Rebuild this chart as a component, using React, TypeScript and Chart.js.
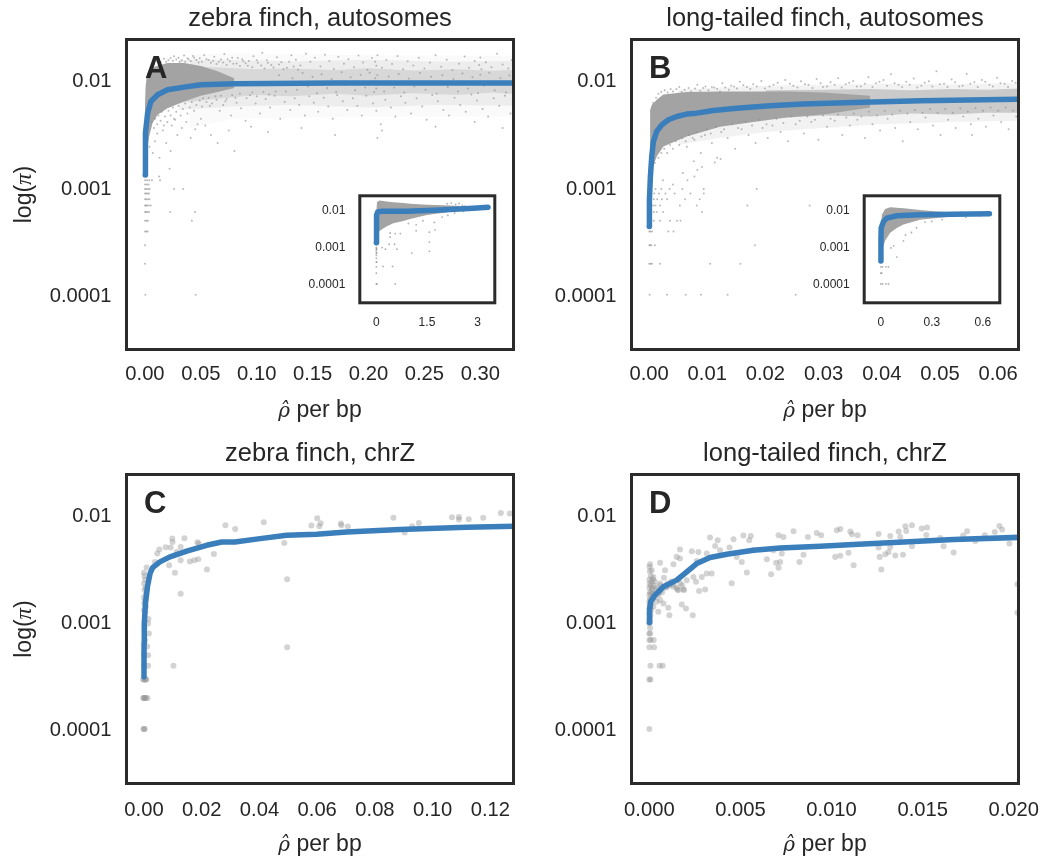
import React, { useEffect, useRef } from "react";
import { Chart, registerables } from "chart.js";
Chart.register(...registerables);

type P = [number, number];

const yTickValues = [0.0001, 0.001, 0.01];
const yTickLabels = ["0.0001", "0.001", "0.01"];

const xTicksA = [0, 0.05, 0.1, 0.15, 0.2, 0.25, 0.3];
const xLabelsA = ["0.00", "0.05", "0.10", "0.15", "0.20", "0.25", "0.30"];
const xTicksB = [0, 0.01, 0.02, 0.03, 0.04, 0.05, 0.06];
const xLabelsB = ["0.00", "0.01", "0.02", "0.03", "0.04", "0.05", "0.06"];
const xTicksC = [0, 0.02, 0.04, 0.06, 0.08, 0.1, 0.12];
const xLabelsC = ["0.00", "0.02", "0.04", "0.06", "0.08", "0.10", "0.12"];
const xTicksD = [0, 0.005, 0.01, 0.015, 0.02];
const xLabelsD = ["0.000", "0.005", "0.010", "0.015", "0.020"];
const xTicksInsetA = [0, 1.5, 3];
const xLabelsInsetA = ["0", "1.5", "3"];
const xTicksInsetB = [0, 0.3, 0.6];
const xLabelsInsetB = ["0", "0.3", "0.6"];

// fitted curves
const lineAx = [0.0002, 0.0003, 0.0006, 0.0024, 0.0053, 0.0113, 0.0202, 0.035, 0.05, 0.08, 0.17, 0.335];
const lineAy = [0.00131, 0.00209, 0.00322, 0.00495, 0.00636, 0.00735, 0.00818, 0.00866, 0.00911, 0.00931, 0.00944, 0.00944];
const lineBx = [0.00003, 0.00006, 0.00023, 0.00046, 0.00074, 0.00132, 0.00218, 0.00332, 0.00475, 0.00647, 0.00819, 0.01105, 0.01506, 0.02078, 0.02651, 0.0351, 0.04655, 0.06315, 0.064];
const lineBy = [0.000432, 0.000767, 0.00127, 0.00195, 0.00269, 0.00334, 0.00385, 0.00429, 0.00461, 0.00485, 0.00495, 0.00524, 0.00551, 0.0058, 0.00601, 0.00623, 0.00645, 0.00669, 0.0067];
const lineCx = [0, 0.00002, 0.0001, 0.0005, 0.0012, 0.0021, 0.003, 0.0055, 0.009, 0.0148, 0.0217, 0.0269, 0.0315, 0.0402, 0.0494, 0.0598, 0.0702, 0.0886, 0.1117, 0.1285];
const lineCy = [0.000308, 0.000633, 0.00097, 0.00149, 0.00214, 0.00285, 0.00324, 0.00366, 0.00408, 0.00461, 0.00524, 0.00563, 0.00563, 0.00605, 0.0065, 0.00664, 0.00699, 0.00735, 0.00772, 0.00789];
const lineDx = [0, 0.00001, 0.00007, 0.00031, 0.00077, 0.0015, 0.00205, 0.0026, 0.00333, 0.00425, 0.00571, 0.00718, 0.00938, 0.01121, 0.01396, 0.0167, 0.0205];
const lineDy = [0.00099, 0.0013, 0.00155, 0.00179, 0.00214, 0.00247, 0.00295, 0.00353, 0.00402, 0.00432, 0.00471, 0.00495, 0.00513, 0.00532, 0.00563, 0.00592, 0.00623];
const lineInsetAx = [0.0, 0.002, 0.01, 0.04, 0.167, 0.9, 1.9, 2.87, 3.31];
const lineInsetAy = [0.0013, 0.00395, 0.00724, 0.00886, 0.00922, 0.00922, 0.01, 0.0111, 0.0118];
const lineInsetBx = [0.0, 0.0005, 0.002, 0.016, 0.035, 0.094, 0.231, 0.427, 0.639];
const lineInsetBy = [0.000414, 0.00146, 0.00327, 0.00492, 0.00602, 0.00694, 0.00737, 0.00768, 0.00784];

// dense cloud outlines
const coreAx = [0, 0.0006, 0.0018, 0.0038, 0.0068, 0.0113, 0.0202, 0.035, 0.05, 0.065, 0.08];
const coreAhi = [0.00572, 0.00879, 0.0113, 0.01258, 0.01323, 0.01371, 0.01452, 0.01452, 0.0136, 0.0122, 0.0105];
const coreAlo = [0.00127, 0.00157, 0.00225, 0.003, 0.004, 0.00478, 0.00551, 0.00636, 0.0072, 0.0078, 0.0085];
const midAx = [0.03, 0.07, 0.1, 0.13, 0.17, 0.2, 0.24, 0.28, 0.31, 0.335];
const midAhi = [0.0138, 0.0131, 0.0127, 0.0129, 0.0125, 0.013, 0.0124, 0.0127, 0.0123, 0.0126];
const midAlo = [0.0062, 0.0068, 0.0073, 0.0071, 0.0075, 0.0072, 0.0076, 0.0073, 0.0077, 0.0074];
const wideAx = [0.03, 0.08, 0.13, 0.2, 0.26, 0.335];
const wideAhi = [0.0156, 0.0155, 0.0151, 0.0156, 0.015, 0.0152];
const wideAlo = [0.0053, 0.0057, 0.0059, 0.0056, 0.0059, 0.0058];
const outerAx = [0.04, 0.08, 0.2, 0.335];
const outerAhi = [0.0175, 0.0178, 0.0172, 0.017];
const outerAlo = [0.0036, 0.0044, 0.0046, 0.0046];

const coreBx = [0.00017, 0.00046, 0.00132, 0.00246, 0.00647, 0.01219, 0.01792, 0.02365, 0.03, 0.038];
const coreBhi = [0.0053, 0.0059, 0.0066, 0.0074, 0.0078, 0.0079, 0.0079, 0.0079, 0.0077, 0.0072];
const coreBlo = [0.00077, 0.00146, 0.00195, 0.00242, 0.003, 0.0037, 0.0041, 0.0045, 0.0048, 0.0056];
const midBx = [0.02, 0.03, 0.038, 0.045, 0.052, 0.058, 0.064];
const midBhi = [0.0081, 0.0082, 0.0083, 0.0081, 0.0083, 0.0082, 0.0084];
const midBlo = [0.0044, 0.0047, 0.0046, 0.0049, 0.0048, 0.005, 0.005];
const outerBx = [0.005, 0.012, 0.02, 0.03, 0.04, 0.052, 0.064];
const outerBhi = [0.0082, 0.0086, 0.0089, 0.0091, 0.0093, 0.0092, 0.0094];
const outerBlo = [0.0025, 0.0029, 0.0033, 0.0036, 0.0039, 0.0041, 0.0042];

const coreInsetAx = [0, 0.02, 0.1, 0.3, 0.5, 0.8, 1.0, 1.5, 2.0, 2.5];
const coreInsetAhi = [0.0105, 0.0165, 0.018, 0.017, 0.0162, 0.0153, 0.0147, 0.0138, 0.0133, 0.0127];
const coreInsetAlo = [0.00144, 0.0021, 0.00275, 0.00357, 0.00437, 0.00503, 0.00568, 0.00724, 0.00834, 0.0098];
const coreInsetBx = [0, 0.006, 0.025, 0.055, 0.094, 0.133, 0.231, 0.329, 0.427];
const coreInsetBhi = [0.00327, 0.00737, 0.0106, 0.0118, 0.0115, 0.0111, 0.01, 0.00904, 0.0085];
const coreInsetBlo = [0.000431, 0.00079, 0.00146, 0.00242, 0.00327, 0.00401, 0.00544, 0.00602, 0.00667];

const scatterA: P[] = [
  [0.021,0.0155],[0.026,0.0168],[0.031,0.0149],[0.035,0.0171],[0.039,0.0158],[0.044,0.0163],[0.048,0.0147],[0.053,0.0172],[0.057,0.0155],[0.062,0.0166],[0.066,0.0149],[0.071,0.0176],[0.074,0.0158],[0.079,0.0143],[0.083,0.0162],[0.088,0.0151],[0.092,0.0137],[0.097,0.0168],[0.101,0.0146],[0.105,0.0181],[0.109,0.0154],[0.113,0.0139],[0.118,0.0165],[0.122,0.0148],[0.127,0.0131],[0.131,0.0172],[0.135,0.0156],[0.139,0.0138],[0.144,0.0177],[0.148,0.0149],[0.152,0.0163],[0.157,0.0135],[0.161,0.0174],[0.165,0.0152],[0.169,0.0128],[0.173,0.0166],[0.178,0.0143],[0.182,0.0158],[0.187,0.0133],[0.191,0.0171],[0.195,0.0147],[0.199,0.0126],[0.203,0.0162],[0.206,0.0149],[0.207,0.0137],[0.208,0.0172],[0.212,0.0131],[0.216,0.0155],[0.221,0.0142],[0.226,0.0169],[0.231,0.0127],[0.235,0.0151],[0.24,0.0138],[0.245,0.0163],[0.25,0.0129],[0.255,0.0147],[0.26,0.0172],[0.265,0.0134],[0.27,0.0156],[0.275,0.0125],[0.281,0.0143],[0.286,0.0167],[0.29,0.0131],[0.295,0.0152],[0.299,0.0139],[0.3,0.0164],[0.301,0.0127],[0.305,0.0148],[0.31,0.0133],[0.315,0.0177],[0.32,0.0141],[0.325,0.0129],[0.328,0.0155],
  [0.052,0.0068],[0.058,0.0058],[0.063,0.0071],[0.067,0.0052],[0.072,0.0064],[0.077,0.0047],[0.081,0.0069],[0.086,0.0055],[0.09,0.0042],[0.094,0.0073],[0.099,0.0061],[0.103,0.0049],[0.108,0.0067],[0.112,0.0056],[0.116,0.0072],[0.121,0.0044],[0.125,0.0063],[0.13,0.0053],[0.134,0.0068],[0.138,0.0059],[0.143,0.0047],[0.147,0.0071],[0.151,0.0062],[0.155,0.0051],[0.16,0.0069],[0.164,0.0057],[0.168,0.0044],[0.172,0.0073],[0.177,0.0064],[0.181,0.0053],[0.186,0.0068],[0.19,0.0058],[0.194,0.0047],[0.198,0.0072],[0.204,0.0061],[0.207,0.0052],[0.211,0.0039],[0.215,0.0066],[0.22,0.0056],[0.224,0.0046],[0.229,0.0071],[0.233,0.0062],[0.238,0.0049],[0.243,0.0068],[0.248,0.0057],[0.252,0.0043],[0.257,0.0073],[0.262,0.0064],[0.267,0.0053],[0.272,0.0047],[0.277,0.0069],[0.282,0.0059],[0.287,0.0051],[0.292,0.0074],[0.297,0.0065],[0.302,0.0054],[0.307,0.0046],[0.312,0.0068],[0.317,0.0058],[0.322,0.0072],[0.327,0.0049],
  [0.004,0.0024],[0.007,0.0021],[0.009,0.0027],[0.011,0.0032],[0.013,0.0019],[0.016,0.0034],[0.019,0.0026],[0.022,0.0015],[0.023,0.0022],[0.024,0.0038],[0.027,0.0043],[0.029,0.0031],[0.033,0.0036],[0.037,0.0041],[0.041,0.0029],[0.045,0.0035],[0.047,0.0039],[0.05,0.0044],[0.054,0.0038],[0.059,0.0031],[0.065,0.0026],[0.075,0.0034],[0.08,0.0022],[0.095,0.0037],[0.11,0.0033],[0.14,0.0036],[0.17,0.0031],[0.208,0.0029],[0.212,0.0034],[0.32,0.0036],[0.295,0.0041],[0.26,0.0037],
  [0.0004,0.0001],[0.0454,0.0001],[0.0001,0.000195],[0.0001,0.00029],[0.0001,0.00039],[0.0012,0.00039],[0.0024,0.00039],[0.0001,0.00049],[0.0014,0.00049],[0.0026,0.00049],[0.042,0.00049],[0.0001,0.00059],[0.0011,0.00059],[0.0022,0.00059],[0.0037,0.00059],[0.0226,0.00059],[0.0449,0.00059],[0.0001,0.00068],[0.0009,0.00068],[0.0018,0.00068],[0.0034,0.00068],[0.0052,0.00068],[0.0001,0.00078],[0.0013,0.00078],[0.0027,0.00078],[0.0041,0.00078],[0.0001,0.00088],[0.001,0.00088],[0.0023,0.00088],[0.0036,0.00088],[0.0001,0.00097],[0.0012,0.00097],[0.0028,0.00097],[0.0042,0.00097],[0.0261,0.00097],[0.0342,0.00097],[0.0001,0.00107],[0.0017,0.00107],[0.0032,0.00107],[0.0001,0.00117],[0.0019,0.00117],[0.0039,0.00117],[0.0063,0.00117],[0.0127,0.00127],[0.0135,0.00117],
  [0.008,0.0142],[0.011,0.0151],[0.014,0.0148],[0.017,0.0159],[0.019,0.0149],[0.023,0.0162],[0.025,0.0153],[0.028,0.0157],[0.03,0.0163],[0.033,0.0154],[0.036,0.0149],[0.038,0.0161],[0.041,0.0152],[0.043,0.0169],[0.046,0.0155],[0.049,0.0161],[0.051,0.0149],[0.055,0.0158],[0.059,0.0146],[0.061,0.0153],[0.064,0.0142],[0.068,0.0157],[0.07,0.0147],[0.073,0.0139],[0.076,0.0151],[0.078,0.0163],[0.082,0.0144],[0.085,0.0136],[0.087,0.0158],[0.09,0.0145],[0.093,0.0152],[0.096,0.0133],[0.1,0.0154],[0.104,0.0138],[0.107,0.0129],[0.11,0.0146],[0.115,0.0132],[0.12,0.0141],[0.124,0.0127],[0.129,0.0149],[0.133,0.0135],[0.137,0.0126],
  [0.006,0.0041],[0.008,0.0036],[0.009,0.0044],[0.011,0.0039],[0.012,0.0047],[0.014,0.0042],[0.015,0.0051],[0.017,0.0038],[0.018,0.0046],[0.02,0.0041],[0.021,0.0052],[0.023,0.0047],[0.025,0.0056],[0.026,0.0044],[0.028,0.0051],[0.03,0.0058],[0.032,0.0047],[0.034,0.0054],[0.036,0.0061],[0.038,0.0049],[0.04,0.0056],[0.042,0.0063],[0.044,0.0052],[0.046,0.0059],[0.049,0.0065],[0.051,0.0057],[0.055,0.0063],[0.057,0.0069],[0.06,0.0061],[0.064,0.0066],[0.068,0.0072],[0.07,0.0059],[0.073,0.0067],[0.078,0.0073],[0.082,0.0062],[0.085,0.0075],[0.091,0.0068],[0.096,0.0077],[0.1,0.0071],[0.106,0.0078],[0.111,0.0074],[0.117,0.0079],
  [0.12,0.0112],[0.126,0.0079],[0.132,0.0105],[0.136,0.0082],[0.141,0.0117],[0.146,0.0088],[0.15,0.0108],[0.154,0.0076],[0.158,0.0114],[0.163,0.0085],[0.167,0.0103],[0.171,0.0078],[0.176,0.0119],[0.18,0.0091],[0.184,0.0107],[0.188,0.0081],[0.193,0.0113],[0.197,0.0086],[0.201,0.0118],[0.205,0.0078],[0.206,0.0105],[0.207,0.0084],[0.208,0.0112],[0.209,0.0093],[0.214,0.0079],[0.218,0.0109],[0.223,0.0086],[0.227,0.0115],[0.232,0.0077],[0.236,0.0104],[0.241,0.0088],[0.246,0.0117],[0.251,0.0082],[0.256,0.0108],[0.261,0.0075],[0.266,0.0112],[0.271,0.0087],[0.276,0.0103],[0.28,0.0079],[0.284,0.0116],[0.289,0.0084],[0.293,0.0107],[0.298,0.0076],[0.3,0.0113],[0.303,0.0089],[0.308,0.0118],[0.313,0.0081],[0.318,0.0105],[0.323,0.0077],[0.326,0.0111],
];

const scatterB: P[] = [
  [0.0037,0.0083],[0.0052,0.0087],[0.0068,0.0085],[0.0083,0.0091],[0.0097,0.0088],[0.0112,0.0086],[0.0126,0.0094],[0.0141,0.0089],[0.0156,0.0097],[0.0168,0.0087],[0.0179,0.0092],[0.0193,0.0099],[0.0207,0.0088],[0.0221,0.0095],[0.0234,0.0101],[0.0248,0.0089],[0.0261,0.0098],[0.0274,0.0091],[0.0288,0.0103],[0.0299,0.0087],[0.0312,0.0096],[0.0325,0.0105],[0.0338,0.0092],[0.0351,0.0099],[0.0364,0.0088],[0.0377,0.0107],[0.039,0.0094],[0.0403,0.0101],[0.0416,0.0114],[0.0429,0.0091],[0.0442,0.0097],[0.0455,0.0104],[0.0468,0.0089],[0.0481,0.0098],[0.0494,0.0122],[0.0507,0.0093],[0.052,0.0102],[0.0533,0.0088],[0.0546,0.0115],[0.0559,0.0096],[0.0572,0.0101],[0.0585,0.0091],[0.0598,0.0106],[0.0611,0.0093],[0.0624,0.0099],
  [0.0065,0.0024],[0.0078,0.0028],[0.0089,0.0021],[0.0096,0.0031],[0.0108,0.0026],[0.0117,0.0019],[0.0124,0.0033],[0.0135,0.0029],[0.0148,0.0023],[0.0159,0.0035],[0.0171,0.0031],[0.0183,0.0026],[0.0195,0.0036],[0.0204,0.0029],[0.0212,0.0038],[0.0226,0.0033],[0.0239,0.0027],[0.0252,0.0039],[0.0266,0.0032],[0.0279,0.0041],[0.0291,0.0028],[0.0306,0.0037],[0.0319,0.0042],[0.0332,0.0031],[0.0345,0.0038],[0.0358,0.0043],[0.0371,0.0029],[0.0384,0.0039],[0.0397,0.0034],[0.041,0.0044],[0.0423,0.0036],[0.0436,0.0027],[0.0449,0.0041],[0.0462,0.0035],[0.0475,0.0045],[0.0488,0.0038],[0.0501,0.0031],[0.0514,0.0043],[0.0527,0.0036],[0.054,0.0046],[0.0553,0.0039],[0.0555,0.0031],[0.0566,0.0044],[0.0579,0.0037],[0.0592,0.0047],[0.0605,0.0041],[0.0618,0.0035],[0.0631,0.0046],
  [0.0001,0.0001],[0.0031,0.0001],[0.0063,0.0001],[0.0089,0.0001],[0.0135,0.0001],[0.0252,0.0001],
  [0.00005,0.000195],[0.0003,0.000195],[0.0005,0.000195],[0.0019,0.000195],[0.0105,0.000195],[0.0157,0.000195],
  [0.00005,0.00029],[0.0002,0.00029],[0.0004,0.00029],[0.001,0.00029],[0.0182,0.00029],
  [0.00005,0.00039],[0.0002,0.00039],[0.0005,0.00039],[0.0033,0.00039],[0.0042,0.00039],
  [0.0008,0.00049],[0.0019,0.00049],[0.0036,0.00049],[0.0048,0.00049],[0.0054,0.00049],
  [0.0008,0.00059],[0.0013,0.00059],[0.0024,0.00059],[0.0091,0.00059],
  [0.0007,0.00068],[0.0011,0.00068],[0.0019,0.00068],[0.0053,0.00068],[0.0082,0.00068],[0.0169,0.00068],[0.0276,0.00068],
  [0.0008,0.00078],[0.0014,0.00078],[0.0022,0.00078],[0.0031,0.00078],[0.0062,0.00078],[0.0087,0.00078],
  [0.0009,0.00088],[0.0017,0.00088],[0.0028,0.00088],[0.0044,0.00088],[0.0071,0.00088],[0.0094,0.00088],
  [0.0011,0.00097],[0.0021,0.00097],[0.0035,0.00097],[0.0057,0.00097],[0.0094,0.00097],[0.0185,0.00097],
  [0.0024,0.00117],[0.0041,0.00107],[0.0066,0.00117],[0.0078,0.00127],[0.0058,0.00137],[0.0083,0.00146],[0.0091,0.00156],[0.0077,0.00176],[0.0113,0.00171],[0.0123,0.00185],
  [0.0007,0.0062],[0.0012,0.0069],[0.0016,0.0075],[0.0021,0.0078],[0.0027,0.0081],[0.0032,0.0077],[0.0041,0.0079],[0.0047,0.0083],[0.0056,0.0078],[0.0061,0.0082],[0.0072,0.0079],[0.0079,0.0084],[0.0088,0.008],[0.0093,0.0085],[0.0102,0.0081],[0.0108,0.0087],[0.0117,0.0083],[0.0122,0.0079],[0.0131,0.0086],[0.0137,0.0082],[0.0146,0.0088],[0.0151,0.0084],[0.0162,0.009],[0.0174,0.0083],[0.0185,0.0088],[0.0199,0.0084],[0.0214,0.0091],[0.0228,0.0085],[0.0242,0.0093],[0.0255,0.0086],[0.0268,0.0092],[0.0281,0.0085],[0.0295,0.0094],[0.0306,0.0088],[0.0319,0.0091],[0.0331,0.0086],[0.0344,0.0095],[0.0357,0.0088],[0.0371,0.0093],[0.0384,0.0087],[0.0396,0.0097],[0.0409,0.0089],[0.0422,0.0094],[0.0435,0.0087],[0.0448,0.0091],[0.0461,0.0086],[0.0474,0.0095],[0.0487,0.0088],[0.05,0.0092],[0.0513,0.0087],[0.0526,0.0096],[0.0539,0.0089],[0.0552,0.0093],[0.0565,0.0087],[0.0578,0.0097],[0.0591,0.0088],[0.0604,0.0094],[0.0617,0.0087],[0.063,0.0095],
  [0.001,0.0017],[0.0016,0.0019],[0.0021,0.0021],[0.0026,0.0023],[0.0031,0.0021],[0.0036,0.0025],[0.0041,0.0023],[0.0046,0.0027],[0.0052,0.0025],[0.0057,0.0029],[0.0063,0.0027],[0.0069,0.0031],[0.0075,0.0029],[0.0082,0.0033],[0.009,0.003],[0.0099,0.0035],[0.0106,0.0032],[0.0115,0.0037],[0.0129,0.0035],[0.0143,0.0039],[0.0153,0.0036],[0.0166,0.0041],[0.0177,0.0038],[0.0189,0.0043],[0.0202,0.0039],[0.0219,0.0044],[0.0231,0.004],[0.0245,0.0046],[0.0259,0.0042],[0.0272,0.0046],[0.0285,0.0043],[0.0299,0.0047],[0.0312,0.0044],[0.0325,0.0048],[0.0339,0.0045],[0.0352,0.0049],[0.0365,0.0046],[0.0378,0.0051],[0.0392,0.0047],[0.0405,0.0052],[0.0418,0.0048],[0.0431,0.0052],[0.0444,0.0049],[0.0457,0.0053],[0.047,0.005],[0.0483,0.0054],[0.0496,0.005],[0.0509,0.0054],[0.0522,0.005],[0.0535,0.0055],[0.0548,0.0051],[0.0561,0.0055],[0.0574,0.0052],[0.0587,0.0056],[0.06,0.0052],[0.0613,0.0056],[0.0626,0.0052],
];

const scatterC: P[] = [
  [0.1236,0.0105],[0.1267,0.0104],[0.1067,0.00958],[0.1091,0.00965],[0.1091,0.00911],[0.1125,0.00918],[0.1175,0.00951],[0.0864,0.00951],[0.06,0.00937],[0.0612,0.00842],[0.058,0.00801],[0.0607,0.00789],[0.0682,0.00836],[0.0684,0.00806],[0.0706,0.00784],[0.0952,0.00848],[0.0929,0.00789],[0.0903,0.00689],[0.0282,0.00806],[0.0316,0.00745],[0.0415,0.0086],[0.0486,0.00551],[0.0496,0.00252],[0.0496,0.00058],[0.0102,0.00039],[0.0127,0.00184],[0.0218,0.00311],[0.0242,0.00435],[0.0107,0.00289],[0.014,0.0061],[0.0098,0.00606],[0.0099,0.00563],[0.0185,0.00559],[0.019,0.00544],[0.0127,0.00506],[0.0053,0.00478],[0.0075,0.00502],[0.0092,0.00499],[0.0046,0.00438],[0.0113,0.00454],[0.0188,0.00388],[0.0174,0.0038],[0.0159,0.00369],[0.0127,0.0038],[0.0087,0.00341],[0.0038,0.00366],[0.0009,0.00324],[0.0,0.00289],
  [0.0002,0.0027],[0.0004,0.0025],[0.0,0.0023],[0.0005,0.0021],[0.0002,0.002],[0.0006,0.0018],[0.0,0.0017],[0.0004,0.0016],[0.0001,0.0015],[0.0007,0.0014],[0.0,0.0013],[0.0005,0.00125],[0.0015,0.00107],[0.0014,0.00097],[0.0002,0.00088],[0.0017,0.00078],[0.0004,0.00068],[0.0011,0.00059],[0.0,0.00049],[0.0014,0.00049],[0.0,0.00039],[0.0014,0.00039],
  [-0.0003,0.00029],[0.0,0.00029],[0.0003,0.00029],[0.0006,0.00029],[0.0008,0.00029],
  [-0.0003,0.000195],[0.0,0.000195],[0.0002,0.000195],[0.0004,0.000195],[0.0007,0.000195],[0.0012,0.000195],
  [-0.0002,0.0001],[0.0,0.0001],[0.0003,0.0001],
];

const scatterD: P[] = [
  [0.01921,0.00795],[0.01936,0.00735],[0.01896,0.00699],[0.01744,0.00709],[0.01722,0.00646],[0.01789,0.00575],[0.01841,0.0065],[0.01976,0.00543],[0.0167,0.00448],[0.01615,0.00513],[0.01597,0.00614],[0.0152,0.00655],[0.01524,0.00767],[0.01495,0.00751],[0.01441,0.00806],[0.01405,0.00789],[0.0141,0.00714],[0.01368,0.00704],[0.01377,0.00627],[0.01322,0.00641],[0.01441,0.00513],[0.01392,0.00426],[0.0135,0.0042],[0.01313,0.00454],[0.01295,0.00432],[0.01264,0.00408],[0.01273,0.0031],[0.01322,0.00506],[0.01258,0.00499],[0.01258,0.00669],[0.01143,0.0065],[0.01112,0.00664],[0.01103,0.00704],[0.01048,0.00745],[0.01029,0.00724],[0.01093,0.00445],[0.01048,0.00417],[0.0102,0.00408],[0.01121,0.00341],[0.00943,0.0065],[0.00919,0.00684],[0.0087,0.00627],[0.00791,0.00709],[0.00846,0.00426],[0.00824,0.00366],[0.00736,0.00627],[0.00709,0.0065],[0.00681,0.00471],[0.00727,0.00438],[0.00718,0.00366],[0.00696,0.00359],[0.00709,0.00322],[0.00668,0.00281],[0.00645,0.00388],[0.00571,0.00471],[0.00557,0.00641],[0.00516,0.00646],[0.00548,0.00584],[0.00462,0.00597],[0.00375,0.00584],[0.00333,0.00618],[0.00535,0.00291],[0.00507,0.00366],[0.00452,0.00231],[0.0048,0.00408],[0.0044,0.00499],[0.00361,0.00517],[0.00388,0.00471],[0.00315,0.00438],[0.00269,0.00454],[0.00233,0.00461],[0.00168,0.00478],[0.00342,0.00285],[0.00315,0.00285],[0.00288,0.00265],[0.00306,0.00202],[0.00273,0.00195],[0.00256,0.00238],[0.00238,0.00116],[0.00201,0.00134],[0.00178,0.00146],[0.0011,0.00116],[0.00104,0.00136],[0.00159,0.00199],[0.00187,0.00202],[0.00205,0.00247],[0.00242,0.00265],[0.0026,0.00374],[0.00168,0.00393],[0.0015,0.00408],[0.00132,0.00348],[0.00086,0.00306],[0.00059,0.00359],[0.00004,0.00348],[0.00013,0.00306],[0.00022,0.00265],[0.00059,0.0023],[0.00095,0.00214],[0.00132,0.00214],[0.00154,0.00202],[0.00049,0.00185],[0.00059,0.00161],[0.00077,0.00149],[0.00049,0.00125],[0.00022,0.00139],
  [0.0202,0.00226],[0.0202,0.00122],[0.0006,0.0022],[0.001,0.0023],[0.0012,0.0024],[0.0016,0.0025],[0.0018,0.0022],[0.0007,0.0019],[0.0004,0.0021],[0.0008,0.0026],[0.0003,0.0024],[0.0009,0.0021],[0.0011,0.0022],[0.0013,0.00225],[0.0015,0.0021],[0.0017,0.0023],[0.0019,0.002],[0.0005,0.0018],[0.0006,0.00195],[0.0003,0.0017],[0.0004,0.00155],[0.0002,0.00185],[0.00035,0.002],[0.00025,0.0022],[0.00015,0.0021],[0.0002,0.0025],
  [0.00001,0.0033],[0.00003,0.003],[0.00008,0.0027],[0.0,0.0025],[0.00012,0.0024],[0.00002,0.0023],[0.00007,0.0022],[0.0,0.0021],[0.00014,0.002],[0.00004,0.0019],[0.00009,0.00185],[0.0,0.0018],[0.00013,0.0017],[0.00003,0.00165],[0.00007,0.0016],[0.0,0.00155],[0.00011,0.0015],[0.00002,0.00145],[0.00006,0.0014],[0.0,0.00135],[0.00009,0.0013],[0.00003,0.00125],[0.0,0.0012],[0.00006,0.00115],[0.00002,0.0011],[0.0,0.00105],[0.00005,0.001],[0.0,0.00097],[0.00004,0.00088],[0.0,0.00078],[0.00004,0.00078],[0.0,0.00068],[0.00024,0.00068],[0.00007,0.00068],
  [0.0,0.00058],[0.00026,0.00058],[0.00006,0.00039],[0.00056,0.00039],[0.00073,0.00039],[0.0,0.00029],[0.00006,0.00029],[0.0,0.0001],
];

const scatterInsetA: P[] = [
  [0.197,0.000297],[0.48,0.000297],[0,0.0001],[0.02,0.0001],[0.56,0.0001],[1.05,0.00068],[1.57,0.00076],[1.57,0.00135],[1.18,0.00275],[1.18,0.00395],[1.57,0.0025],[1.74,0.0029],[0.71,0.00229],[0.56,0.00229],[0.41,0.00238],[0.41,0.00183],[0.17,0.00096],[0.27,0.00087],[0.38,0.00118],[0.54,0.00118],[0.61,0.00087],
  [0,0.000195],[0,0.00029],[0,0.00039],[0,0.00049],[0,0.00059],[0,0.00068],[0,0.00078],[0,0.00088],[0,0.00097],[0.01,0.00039],[0.01,0.00068],[0.01,0.00088],
  [2.1,0.0148],[2.22,0.0153],[2.35,0.0142],[2.45,0.0149],[2.55,0.0132],[2.62,0.0127],[1.72,0.0046],[1.95,0.0064],[2.12,0.0071],[2.32,0.0082],[2.58,0.0091],[2.72,0.0098],[1.38,0.0051],[0.95,0.0043],
];

const scatterInsetB: P[] = [
  [0.759,0.00768],[0,0.0001],[0.01,0.0001],[0.03,0.0001],[0.045,0.0001],[0,0.000195],[0.005,0.000195],[0,0.00029],[0.01,0.00029],[0.03,0.00029],[0.045,0.00029],[0.094,0.00053],[0.075,0.00107],[0.133,0.00146],[0.18,0.00245],[0.21,0.0033],[0.145,0.0021],[0.06,0.00094],
  [0.47,0.0086],[0.5,0.0063],[0.54,0.0081],[0.58,0.0069],[0.36,0.0055],[0.3,0.0049],[0.26,0.0047],
];

const axisColor = "#262626";
const frameColor = "#2b2b2b";
const curveColor = "#3a7fbc";
const solidGray = "#a3a3a3";
const uiFont = "'Liberation Sans', Arial, sans-serif";

const toPts = (xs: number[], ys: number[]) => xs.map((x, i) => ({ x, y: ys[i] }));
const toObj = (ps: P[]) => ps.map(([x, y]) => ({ x, y }));

function bandSets(xs: number[], hi: number[], lo: number[], color: string) {
  return [
    { type: "line", data: toPts(xs, hi), fill: "+1", backgroundColor: color, borderWidth: 0, pointRadius: 0, tension: 0 },
    { type: "line", data: toPts(xs, lo), fill: false, borderWidth: 0, pointRadius: 0, tension: 0 },
  ];
}

const LOGMIN = 3.08e-5;
const LOGMAX = 0.0241;

type Spec = {
  left: number; top: number; w: number; h: number;
  plotL: number; plotR: number; plotT: number; plotB: number;
  xMin: number; xMax: number; xTicks: number[]; xLabels: string[];
  curve: [number[], number[]];
  bands: any[]; scatter: P[]; radius: number; dotColor: string;
  title?: string; titlePad?: { top: number; bottom: number };
  letter?: string; letterX?: number; letterY?: number;
  yTitle?: boolean; xTitleBaseline?: number; xPad: number;
  inset?: boolean;
};

const specs: Spec[] = [
  { left: 0, top: 0, w: 520, h: 430, plotL: 126.5, plotR: 513.5, plotT: 39.5, plotB: 349.5, xMin: -0.0165, xMax: 0.3297, xTicks: xTicksA, xLabels: xLabelsA,
    curve: [lineAx, lineAy],
    bands: [...bandSets(coreAx, coreAhi, coreAlo, solidGray), ...bandSets(midAx, midAhi, midAlo, "rgba(163,163,163,0.28)"), ...bandSets(wideAx, wideAhi, wideAlo, "rgba(163,163,163,0.14)"), ...bandSets(outerAx, outerAhi, outerAlo, "rgba(163,163,163,0.05)")],
    scatter: scatterA, radius: 1, dotColor: "rgba(140,140,140,0.6)",
    title: "zebra finch, autosomes", titlePad: { top: 4, bottom: 5.5 }, letter: "A", letterX: 145, letterY: 78, yTitle: true, xTitleBaseline: 416.5, xPad: 13 },
  { left: 520, top: 0, w: 523, h: 430, plotL: 631.5, plotR: 1018.5, plotT: 39.5, plotB: 349.5, xMin: -0.00302, xMax: 0.0635, xTicks: xTicksB, xLabels: xLabelsB,
    curve: [lineBx, lineBy],
    bands: [...bandSets(coreBx, coreBhi, coreBlo, solidGray), ...bandSets(midBx, midBhi, midBlo, "rgba(163,163,163,0.5)"), ...bandSets(outerBx, outerBhi, outerBlo, "rgba(163,163,163,0.14)")],
    scatter: scatterB, radius: 1, dotColor: "rgba(140,140,140,0.6)",
    title: "long-tailed finch, autosomes", titlePad: { top: 4, bottom: 5.5 }, letter: "B", letterX: 649, letterY: 78, xTitleBaseline: 416.5, xPad: 13 },
  { left: 0, top: 430, w: 520, h: 428, plotL: 126.5, plotR: 513.5, plotT: 474.5, plotB: 783.5, xMin: -0.00606, xMax: 0.128, xTicks: xTicksC, xLabels: xLabelsC,
    curve: [lineCx, lineCy], bands: [], scatter: scatterC, radius: 3, dotColor: "rgba(150,150,150,0.42)",
    title: "zebra finch, chrZ", titlePad: { top: 8.7, bottom: 5.8 }, letter: "C", letterX: 144, letterY: 512.5, yTitle: true, xTitleBaseline: 850.5, xPad: 15 },
  { left: 520, top: 430, w: 523, h: 428, plotL: 631.5, plotR: 1018.5, plotT: 474.5, plotB: 783.5, xMin: -0.00098, xMax: 0.02026, xTicks: xTicksD, xLabels: xLabelsD,
    curve: [lineDx, lineDy], bands: [], scatter: scatterD, radius: 3, dotColor: "rgba(150,150,150,0.42)",
    title: "long-tailed finch, chrZ", titlePad: { top: 8.7, bottom: 5.8 }, letter: "D", letterX: 649, letterY: 512.5, xTitleBaseline: 850.5, xPad: 15 },
  { left: 300, top: 180, w: 215, h: 150, plotL: 359.8, plotR: 494.8, plotT: 195.8, plotB: 302.8, xMin: -0.49, xMax: 3.51, xTicks: xTicksInsetA, xLabels: xLabelsInsetA,
    curve: [lineInsetAx, lineInsetAy], bands: bandSets(coreInsetAx, coreInsetAhi, coreInsetAlo, solidGray), scatter: scatterInsetA, radius: 0.9, dotColor: "rgba(140,140,140,0.7)", inset: true, xPad: 13 },
  { left: 805, top: 180, w: 215, h: 150, plotL: 864.2, plotR: 999.8, plotT: 195.8, plotB: 302.8, xMin: -0.098, xMax: 0.7, xTicks: xTicksInsetB, xLabels: xLabelsInsetB,
    curve: [lineInsetBx, lineInsetBy], bands: bandSets(coreInsetBx, coreInsetBhi, coreInsetBlo, solidGray), scatter: scatterInsetB, radius: 0.9, dotColor: "rgba(140,140,140,0.7)", inset: true, xPad: 13 },
];

function Panel({ s }: { s: Spec }) {
  const ref = useRef<HTMLCanvasElement | null>(null);
  useEffect(() => {
    const tickSize = s.inset ? 12 : 20.2;
    const zero = (sc: any) => { sc.paddingLeft = 0; sc.paddingRight = 0; sc.paddingTop = 0; sc.paddingBottom = 0; };
    const framePlugin = {
      id: "frame",
      afterDraw(chart: any) {
        const { left, right, top, bottom } = chart.chartArea;
        const c = chart.ctx;
        c.save();
        c.strokeStyle = frameColor;
        c.lineWidth = 3;
        c.strokeRect(left, top, right - left, bottom - top);
        c.fillStyle = axisColor;
        c.textBaseline = "alphabetic";
        c.textAlign = "left";
        if (s.letter) {
          c.font = `bold 31px ${uiFont}`;
          c.fillText(s.letter, (s.letterX as number) - s.left, (s.letterY as number) - s.top);
        }
        if (s.xTitleBaseline) {
          const rho = "ρ̂";
          const rest = " per bp";
          const rhoFont = "italic 20px 'DejaVu Serif', serif";
          const restFont = `23px ${uiFont}`;
          c.font = rhoFont;
          const wr = c.measureText(rho).width;
          c.font = restFont;
          const wp = c.measureText(rest).width;
          const x0 = (left + right) / 2 - (wr + wp) / 2;
          const y0 = s.xTitleBaseline - s.top;
          c.font = rhoFont;
          c.fillText(rho, x0, y0);
          c.font = restFont;
          c.fillText(rest, x0 + wr, y0);
        }
        if (s.yTitle) {
          const parts: [string, string][] = [["log(", `23px ${uiFont}`], ["π", "italic 23px 'Liberation Serif', serif"], [")", `23px ${uiFont}`]];
          let total = 0;
          for (const [t, f] of parts) { c.font = f; total += c.measureText(t).width; }
          c.translate(31, (top + bottom) / 2);
          c.rotate(-Math.PI / 2);
          let px = -total / 2;
          for (const [t, f] of parts) { c.font = f; c.fillText(t, px, 0); px += c.measureText(t).width; }
        }
        c.restore();
      },
    };
    const chart = new Chart(ref.current as HTMLCanvasElement, {
      type: "scatter",
      plugins: [framePlugin],
      data: {
        datasets: [
          { type: "line", data: toPts(s.curve[0], s.curve[1]), borderColor: curveColor, borderWidth: 5.5, borderCapStyle: "round", borderJoinStyle: "round", pointRadius: 0, tension: 0, fill: false },
          { data: toObj(s.scatter), backgroundColor: s.dotColor, borderWidth: 0, pointRadius: s.radius, pointBorderWidth: 0 },
          ...s.bands,
        ] as any,
      },
      options: {
        animation: false,
        responsive: false,
        maintainAspectRatio: false,
        devicePixelRatio: 1,
        layout: { padding: { left: 0, top: s.inset ? s.plotT - s.top : 0, right: s.left + s.w - s.plotR, bottom: 0 } },
        events: [],
        plugins: {
          legend: { display: false },
          tooltip: { enabled: false },
          title: s.title
            ? { display: true, text: s.title, color: axisColor, fullSize: false, font: { family: uiFont, size: 25.5, weight: "normal", lineHeight: 30 / 25.5 }, padding: s.titlePad }
            : { display: false },
        },
        scales: {
          x: {
            type: "linear", min: s.xMin, max: s.xMax,
            grid: { display: false, drawTicks: false }, border: { display: false },
            ticks: {
              color: axisColor, padding: s.xPad, autoSkip: false, maxRotation: 0, minRotation: 0,
              font: { family: uiFont, size: tickSize },
              callback: (_v: any, i: number) => s.xLabels[i],
            },
            afterBuildTicks: (sc: any) => { sc.ticks = s.xTicks.map((value) => ({ value })); },
            afterFit: (sc: any) => { sc.height = s.top + s.h - s.plotB; zero(sc); },
          },
          y: {
            type: "logarithmic", min: LOGMIN, max: LOGMAX,
            grid: { display: false, drawTicks: false }, border: { display: false },
            ticks: {
              color: axisColor, padding: s.inset ? 14.5 : 15, autoSkip: false, labelOffset: s.inset ? 0.5 : 1.5,
              font: { family: uiFont, size: tickSize },
              callback: (_v: any, i: number) => yTickLabels[i],
            },
            afterBuildTicks: (sc: any) => { sc.ticks = yTickValues.map((value) => ({ value })); },
            afterFit: (sc: any) => { sc.width = s.plotL - s.left; zero(sc); },
          },
        },
      } as any,
    });
    return () => chart.destroy();
  }, [s]);
  return (
    <canvas
      ref={ref}
      width={s.w}
      height={s.h}
      style={{ position: "absolute", left: s.left, top: s.top, width: s.w, height: s.h, display: "block" }}
    />
  );
}

export default function App() {
  return (
    <div style={{ position: "absolute", left: 0, top: 0, width: 1043, height: 858, background: "#fff", overflow: "hidden" }}>
      {specs.map((s, i) => (
        <Panel key={i} s={s} />
      ))}
    </div>
  );
}
